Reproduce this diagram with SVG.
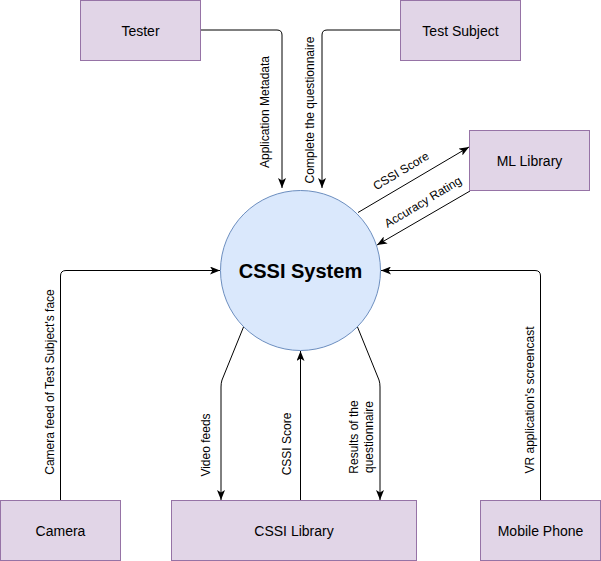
<svg xmlns="http://www.w3.org/2000/svg" width="601" height="561" viewBox="0 0 601 561">
<defs>
<style>
.box{fill:#e1d5e7;stroke:#9673a6;stroke-width:1}
.lbl{font-family:"Liberation Sans",Arial,sans-serif;font-size:14px;fill:#000;text-anchor:middle;dominant-baseline:central}
.el{font-family:"Liberation Sans",Arial,sans-serif;font-size:12px;fill:#000;text-anchor:middle;dominant-baseline:central}
.edge{fill:none;stroke:#000;stroke-width:1;marker-end:url(#arr)}
</style>
<marker id="arr" viewBox="0 0 10 8" refX="10" refY="4" markerWidth="10" markerHeight="8" markerUnits="userSpaceOnUse" orient="auto">
<path d="M0,0 L10,4 L0,8 L2.5,4 Z" fill="#000"/>
</marker>
</defs>
<rect width="601" height="561" fill="#fff"/>
<g id="connectors">
<path class="edge" d="M200,30 H277 Q282,30 282,35 V188"/>
<path class="edge" d="M400,30 H327 Q322,30 322,35 V188"/>
<path class="edge" d="M358,212.5 L469,147"/>
<path class="edge" d="M470,191 L377,245"/>
<path class="edge" d="M60.5,500 V276 Q60.5,270.5 66,270.5 H220"/>
<path class="edge" d="M540.5,500 V276 Q540.5,270.5 535,270.5 H381"/>
<path class="edge" d="M243.5,327 L222,380 Q221,383 221,387 V500"/>
<path class="edge" d="M300.5,500 V351"/>
<path class="edge" d="M357.5,327 L379,380 Q380,383 380,387 V500"/>
<text class="el" transform="translate(265,112) rotate(-90)">Application Metadata</text>
<text class="el" transform="translate(310,110) rotate(-90)">Complete the questionnaire</text>
<text class="el" transform="translate(401,171) rotate(-31)">CSSI Score</text>
<text class="el" transform="translate(423,202) rotate(-31)">Accuracy Rating</text>
<text class="el" transform="translate(50,382) rotate(-90)">Camera feed of Test Subject's face</text>
<text class="el" transform="translate(530,400) rotate(-90)">VR application's screencast</text>
<text class="el" transform="translate(206,445) rotate(-90)">Video feeds</text>
<text class="el" transform="translate(287,444) rotate(-90)">CSSI Score</text>
<text class="el" transform="translate(354,437) rotate(-90)">Results of the</text>
<text class="el" transform="translate(369,437) rotate(-90)">questionnaire</text>
</g>
<g id="tester"><rect class="box" x="80.5" y="0.5" width="120" height="60"/><text class="lbl" x="140.5" y="30.5">Tester</text></g>
<g id="test-subject"><rect class="box" x="400.5" y="0.5" width="120" height="60"/><text class="lbl" x="460.5" y="30.5">Test Subject</text></g>
<g id="ml-library"><rect class="box" x="469.5" y="130.5" width="120" height="60"/><text class="lbl" x="529.5" y="160.5">ML Library</text></g>
<g id="cssi-system"><circle cx="300.5" cy="270.5" r="80" fill="#dae8fc" stroke="#6c8ebf"/><text x="300.5" y="270.5" font-family="'Liberation Sans',Arial,sans-serif" font-size="20" font-weight="bold" text-anchor="middle" dominant-baseline="central">CSSI System</text></g>
<g id="camera"><rect class="box" x="0.5" y="500.5" width="120" height="60"/><text class="lbl" x="60.5" y="530.5">Camera</text></g>
<g id="cssi-library"><rect class="box" x="171.5" y="500.5" width="245" height="60"/><text class="lbl" x="294" y="530.5">CSSI Library</text></g>
<g id="mobile-phone"><rect class="box" x="480.5" y="500.5" width="120" height="60"/><text class="lbl" x="540.5" y="530.5">Mobile Phone</text></g>
</svg>
